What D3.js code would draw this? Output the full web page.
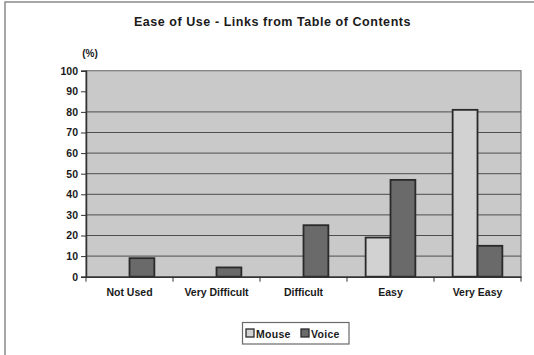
<!DOCTYPE html>
<html>
<head>
<meta charset="utf-8">
<script src="https://cdn.jsdelivr.net/npm/d3@7"></script>
<style>
  html, body { margin: 0; padding: 0; background: #fff; }
  svg { display: block; }
  text { font-family: Arial, "Liberation Sans", sans-serif; font-weight: bold; fill: #1a1a1a; }
</style>
</head>
<body>
<svg id="chart" width="534" height="355"></svg>
<script>
const title = "Ease of Use - Links from Table of Contents";
const categories = ["Not Used", "Very Difficult", "Difficult", "Easy", "Very Easy"];
const seriesNames = ["Mouse", "Voice"];
const mouseValues = [0, 0, 0, 19, 81];
const voiceValues = [9, 4.5, 25, 47, 15];
const yTicks = [0, 10, 20, 30, 40, 50, 60, 70, 80, 90, 100];
const gridValues = [10, 20, 30, 40, 50, 60, 70, 80];
const seriesColors = ["#d2d2d2", "#6a6a6a"];

const svg = d3.select("#chart");
const plot = { left: 86, right: 521, top: 70.7, bottom: 276.7 };

// outer frame (partially cropped)
svg.append("rect").attr("x", 5).attr("y", 2).attr("width", 700).attr("height", 600)
  .attr("fill", "#fff").attr("stroke", "#8a8a8a").attr("stroke-width", 1.5);

const x = d3.scaleBand().domain(categories).range([plot.left, plot.right]).paddingInner(0).paddingOuter(0);
const xs = d3.scaleBand().domain(seriesNames).range([0, x.bandwidth()]).paddingInner(0).paddingOuter(0.75);
const y = d3.scaleLinear().domain([0, 100]).range([plot.bottom, plot.top]);

// plot background
svg.append("rect").attr("x", plot.left).attr("y", plot.top)
  .attr("width", plot.right - plot.left).attr("height", plot.bottom - plot.top)
  .attr("fill", "#c9c9c9").attr("stroke", "#7a7a7a").attr("stroke-width", 1.2);

// gridlines
svg.append("g").selectAll("line").data(gridValues).join("line")
  .attr("x1", plot.left).attr("x2", plot.right)
  .attr("y1", d => y(d)).attr("y2", d => y(d))
  .attr("stroke", "#4e4e4e").attr("stroke-width", 1);

// bars
const data = categories.map((c, i) => ({ cat: c, vals: [
  { s: "Mouse", v: mouseValues[i], c: seriesColors[0] },
  { s: "Voice", v: voiceValues[i], c: seriesColors[1] }
]}));
const groups = svg.append("g").selectAll("g").data(data).join("g")
  .attr("transform", d => `translate(${x(d.cat)},0)`);
groups.selectAll("rect").data(d => d.vals.filter(v => v.v > 0)).join("rect")
  .attr("x", d => xs(d.s)).attr("width", xs.bandwidth())
  .attr("y", d => y(d.v)).attr("height", d => y(0) - y(d.v))
  .attr("fill", d => d.c).attr("stroke", "#2a2a2a").attr("stroke-width", 1.8);

// y axis
const yAxis = d3.axisLeft(y).tickValues(yTicks).tickSize(5).tickPadding(3);
const gy = svg.append("g").attr("transform", `translate(${plot.left},0)`).call(yAxis);
gy.select(".domain").attr("stroke", "#333").attr("stroke-width", 1.5);
gy.selectAll(".tick line").attr("stroke", "#333");
gy.selectAll(".tick text").attr("font-size", "10.5px").attr("font-family", "Arial, 'Liberation Sans', sans-serif")
  .attr("font-weight", "bold").attr("fill", "#1a1a1a");

// x axis
const xAxis = d3.axisBottom(x).tickSize(0).tickPadding(12);
const gx = svg.append("g").attr("transform", `translate(0,${plot.bottom})`).call(xAxis);
gx.select(".domain").attr("stroke", "#333").attr("stroke-width", 1.5);
gx.selectAll(".tick text").attr("font-size", "10.5px").attr("font-family", "Arial, 'Liberation Sans', sans-serif")
  .attr("font-weight", "bold").attr("fill", "#1a1a1a");
// category separator ticks
const bounds = categories.map(c => x(c)).concat([x.range()[1]]);
svg.append("g").selectAll("line").data(bounds).join("line")
  .attr("x1", d => d).attr("x2", d => d)
  .attr("y1", plot.bottom).attr("y2", plot.bottom + 5)
  .attr("stroke", "#333").attr("stroke-width", 1);

// title
svg.append("text").attr("x", 272.5).attr("y", 25.5).attr("text-anchor", "middle")
  .attr("font-size", "12.5px").attr("letter-spacing", "0.55px").text(title);

// unit label
svg.append("text").attr("x", 90).attr("y", 56.5).attr("text-anchor", "middle")
  .attr("font-size", "10px").text("(%)");

// legend
const lg = svg.append("g");
lg.append("rect").attr("x", 242.5).attr("y", 322.5).attr("width", 106.5).attr("height", 21.5)
  .attr("fill", "#fff").attr("stroke", "#6a6a6a").attr("stroke-width", 1.2);
const lx = [246, 301];
seriesNames.forEach((s, i) => {
  lg.append("rect").attr("x", lx[i]).attr("y", 329).attr("width", 8).attr("height", 8)
    .attr("fill", seriesColors[i]).attr("stroke", "#2a2a2a").attr("stroke-width", 1.3);
  lg.append("text").attr("x", lx[i] + 10).attr("y", 337.5).attr("font-size", "10.5px")
    .attr("letter-spacing", "0.3px").text(s);
});
</script>
</body>
</html>
